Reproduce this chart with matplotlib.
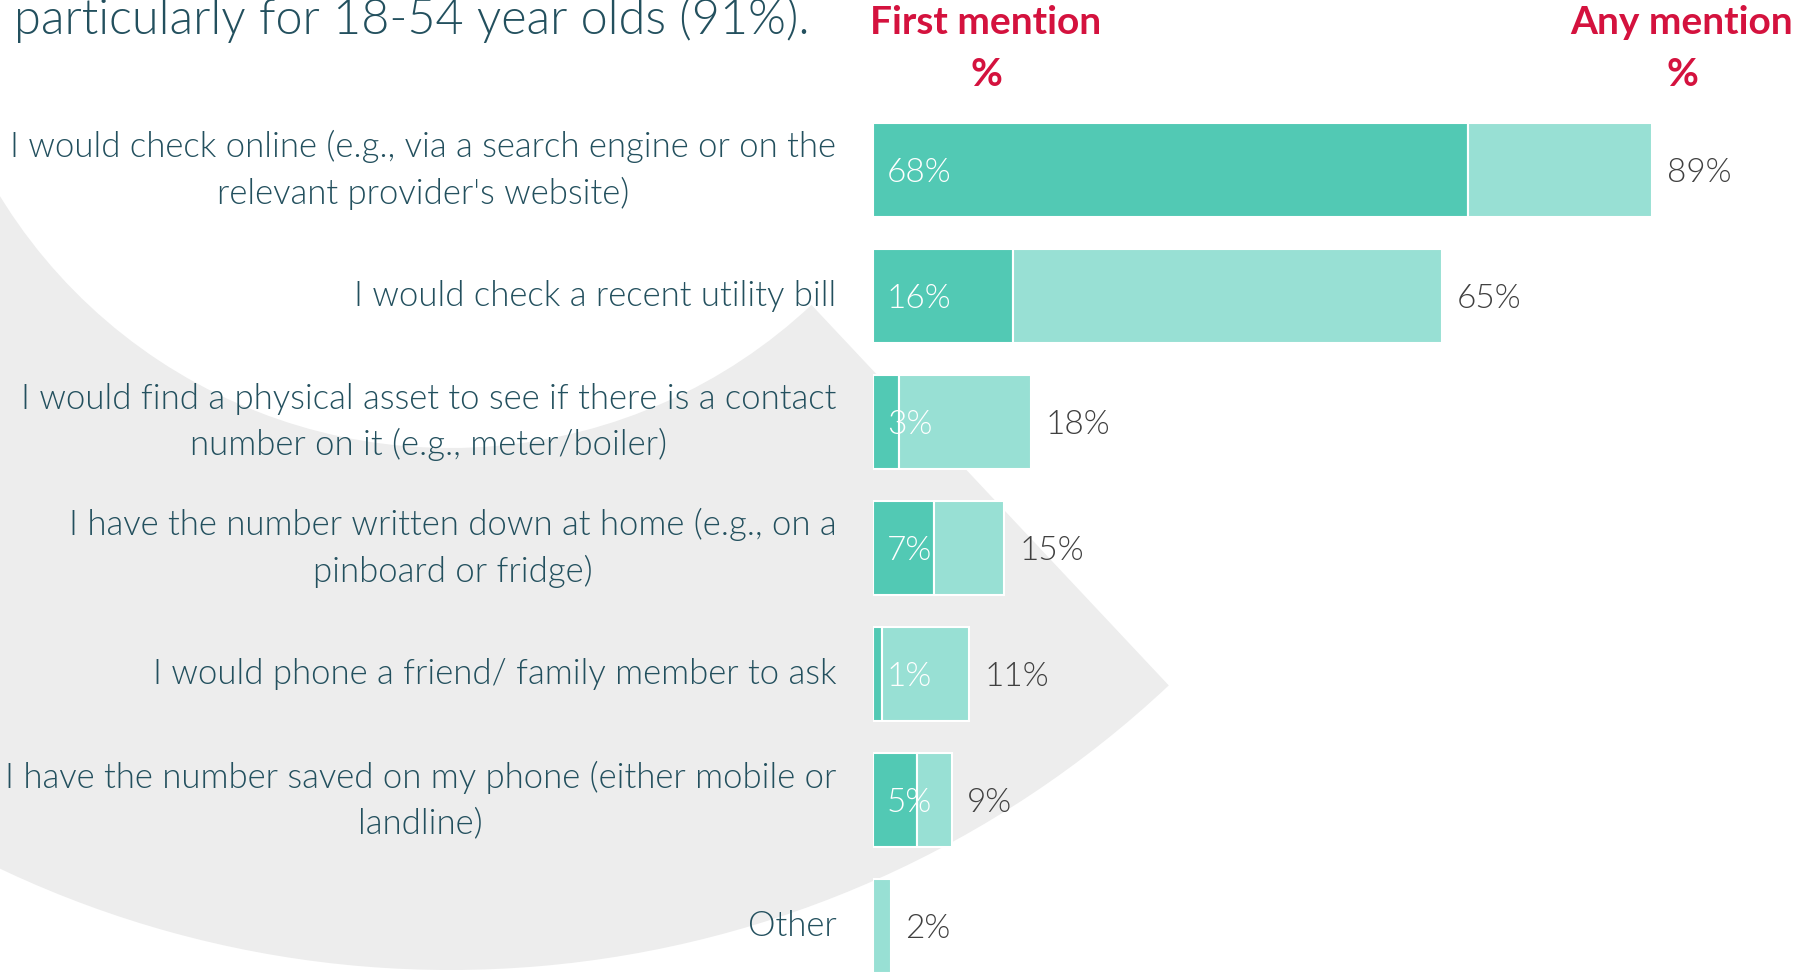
import matplotlib.pyplot as plt
from matplotlib.patches import Wedge

# data
categories = [
    "I would check online (e.g., via a search engine or on the\nrelevant provider's website)",
    "I would check a recent utility bill",
    "I would find a physical asset to see if there is a contact\nnumber on it (e.g., meter/boiler)",
    "I have the number written down at home (e.g., on a\npinboard or fridge)",
    "I would phone a friend/ family member to ask",
    "I have the number saved on my phone (either mobile or\nlandline)",
    "Other",
]
first_mention = [68, 16, 3, 7, 1, 5, 0]
any_mention = [89, 65, 18, 15, 11, 9, 2]
title = "particularly for 18-54 year olds (91%)."

dark = "#52C9B4"
light = "#98E0D4"
text_col = "#23505E"
red = "#D4123E"
FONT = "Lato"

W, H = 1800, 976
fig = plt.figure(figsize=(W / 100, H / 100), dpi=100)

# decorative grey ring segment in the background (pixel coords, y down)
bg = fig.add_axes([0, 0, 1, 1])
bg.set_xlim(0, W)
bg.set_ylim(H, 0)
bg.axis("off")
bg.add_patch(Wedge((450, -80), 1050, 46.8, 200, width=522,
                   facecolor="#EDEDED", edgecolor="none"))

# bar axes: x 0..100 maps to px 873..1748
ax = fig.add_axes([873 / W, 0, 875 / W, 1])
ax.patch.set_alpha(0)
ax.set_xlim(0, 100)
ax.set_ylim(6.397, -1.349)
ax.axis("off")

ypos = list(range(len(categories)))
bh = 0.746
ax.barh(ypos, first_mention, height=bh, color=dark, edgecolor="white", linewidth=1.5)
rest = [a - f for a, f in zip(any_mention, first_mention)]
ax.barh(ypos, rest, left=first_mention, height=bh, color=light,
        edgecolor="white", linewidth=1.5)

for y, cat, f, a in zip(ypos, categories, first_mention, any_mention):
    ax.text(-4.2, y, cat, ha="right", va="center", multialignment="center",
            fontsize=25, color=text_col, family=FONT, fontweight=300,
            linespacing=1.5, clip_on=False)
    if f > 0:
        ax.text(1.6, y + 0.025, f"{f}%", ha="left", va="center", fontsize=24,
                color="white", family=FONT, fontweight=300)
    ax.text(a + 1.7, y + 0.025, f"{a}%", ha="left", va="center", fontsize=24,
            color="#404040", family=FONT, fontweight=300)

# headers
hdr = dict(ha="center", va="center", fontsize=28, color=red, family=FONT,
           fontweight="bold")
fig.text(986 / W, 1 - 23 / H, "First mention", **hdr)
fig.text(986 / W, 1 - 75 / H, "%", **hdr)
fig.text(1682 / W, 1 - 23 / H, "Any mention", **hdr)
fig.text(1682 / W, 1 - 75 / H, "%", **hdr)

fig.text(14 / W, 1 - 20 / H, title, ha="left", va="center",
         fontsize=35, color=text_col, family=FONT, fontweight=300)

fig.savefig("out.png", dpi=100, facecolor="white")
